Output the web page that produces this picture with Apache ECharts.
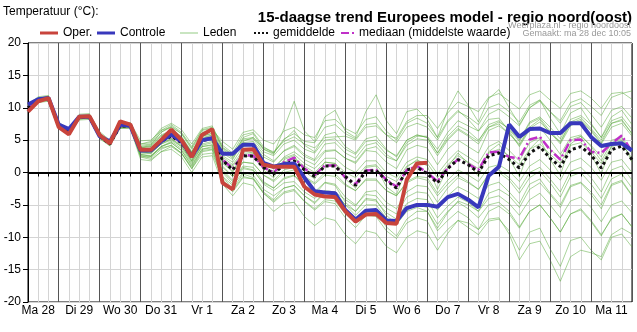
<!DOCTYPE html>
<html>
<head>
<meta charset="utf-8">
<script src="https://cdn.jsdelivr.net/npm/echarts@6/dist/echarts.min.js"></script>
<style>
html,body{margin:0;padding:0;background:#fff;}
#chart{width:637px;height:332px;}
</style>
</head>
<body>
<div id="chart"></div>
<script>
// Day tick labels (centred at 12:00 of each day)
const dayLabels = ['Ma 28','Di 29','Wo 30','Do 31','Vr 1','Za 2','Zo 3','Ma 4','Di 5','Wo 6','Do 7','Vr 8','Za 9','Zo 10','Ma 11','Di 12'];
const hoursOfDay = ['00','06','12','18'];

// 6-hourly values, Ma 28 06h .. Di 12 00h (60 points)
const oper = [9.4,11.0,11.5,7.0,5.9,8.6,8.7,5.8,4.5,7.9,7.4,3.5,3.5,5.0,6.6,5.0,2.4,5.8,6.7,-1.6,-2.6,3.5,3.6,1.2,0.9,0.9,0.9,-2.2,-3.4,-3.7,-3.8,-6.0,-7.6,-6.5,-6.4,-7.8,-7.9,-1.1,1.4,1.5];
const controle = [10.5,11.3,11.5,7.4,6.7,8.6,8.6,5.6,4.8,7.4,7.2,3.4,3.4,4.8,5.9,4.8,2.5,5.0,5.3,2.9,2.9,4.3,4.3,1.5,0.9,1.3,1.4,-0.8,-2.9,-3.1,-3.2,-5.8,-7.3,-5.9,-5.8,-7.4,-7.5,-5.5,-5.0,-5.0,-5.3,-3.8,-3.3,-4.2,-5.4,-0.5,0.9,7.4,5.5,6.7,6.8,6.1,6.1,7.6,7.6,5.5,4.1,4.4,4.5,3.4];
const gemiddelde = [10.0,11.2,11.4,7.2,6.3,8.5,8.6,5.6,4.4,7.2,7.2,3.4,3.4,4.8,5.6,4.6,2.4,4.9,5.3,1.9,0.4,2.6,2.5,0.8,-0.2,1.2,1.8,0.4,-0.6,1.0,1.0,-0.6,-2.0,0.2,0.3,-1.2,-2.4,0.4,0.8,-0.2,-1.6,0.6,2.0,1.2,0.0,2.6,3.0,2.0,0.7,3.0,4.0,2.2,0.9,3.5,4.0,2.7,0.7,3.5,4.1,2.0];
const mediaan = [10.0,11.2,11.4,7.2,6.3,8.5,8.6,5.6,4.4,7.2,7.2,3.4,3.4,4.8,5.7,4.6,2.4,5.0,5.4,2.0,0.6,2.7,2.6,0.8,0.0,1.6,2.3,0.6,-0.4,1.1,1.1,-0.8,-1.8,0.3,0.4,-1.1,-2.2,0.4,1.0,0.0,-1.4,0.7,2.0,1.3,0.4,3.1,3.2,2.4,2.2,5.1,5.5,3.5,2.0,5.0,5.1,3.2,3.0,4.5,5.7,3.2];

const lid01 = [10.5,11.7,11.9,7.7,6.8,9.0,9.1,6.3,5.0,7.7,7.7,4.9,5.0,6.5,7.0,6.0,3.8,6.5,6.8,3.9,2.8,5.2,5.4,3.8,3.2,4.8,5.5,4.4,3.8,5.4,5.5,5.6,5.0,7.0,7.2,5.8,5.3,7.9,8.8,8.8,6.8,9.2,10.9,10.2,9.4,11.6,12.2,11.0,9.8,12.0,12.6,11.2,9.9,12.2,12.6,11.5,9.9,12.2,12.4,11.3];
const lid02 = [9.6,10.8,11.0,6.8,5.9,8.1,8.2,5.2,4.1,6.8,6.8,2.0,1.8,3.2,4.0,2.9,0.6,3.2,3.5,-1.2,-3.0,-0.8,-1.0,-3.2,-4.6,-3.2,-2.8,-4.5,-5.8,-4.5,-4.8,-7.0,-8.5,-6.6,-6.8,-9.0,-10.2,-7.8,-7.0,-7.5,-10.5,-8.8,-7.4,-8.5,-9.6,-7.5,-7.2,-9.0,-12.0,-9.2,-8.6,-11.8,-14.5,-10.5,-10.0,-12.0,-13.5,-10.0,-9.5,-11.5];
const lid03 = [10.2,11.5,11.7,7.3,6.5,8.8,8.9,5.9,4.7,7.5,7.4,4.0,4.3,5.8,6.5,5.3,3.2,5.6,6.1,3.4,2.2,4.6,4.8,2.8,1.8,3.3,4.0,2.5,1.8,3.4,3.5,2.2,1.4,3.4,3.2,1.6,0.6,3.5,4.2,3.8,1.2,3.6,5.0,4.0,3.0,6.5,7.2,6.0,4.4,7.0,8.2,6.0,4.8,7.8,8.5,6.8,5.0,7.6,8.0,6.0];
const lid04 = [9.8,11.0,11.2,7.0,6.1,8.3,8.4,5.4,4.3,7.0,7.0,2.8,2.5,4.0,4.8,3.7,1.4,4.0,4.3,0.0,-1.8,0.6,0.3,-1.6,-2.4,-1.0,-0.5,-2.0,-3.0,-1.5,-1.8,-3.8,-5.0,-3.4,-3.6,-5.5,-6.4,-3.8,-3.0,-3.2,-5.8,-3.6,-2.2,-3.0,-4.0,-2.0,-1.5,-3.0,-4.8,-1.8,-1.0,-3.2,-5.0,-2.0,-1.5,-3.0,-5.0,-1.8,-1.2,-3.5];
const lid05 = [10.1,11.3,11.5,7.1,6.2,8.6,8.7,5.6,4.4,7.3,7.1,3.2,3.0,5.0,6.0,4.6,2.0,5.2,5.8,1.8,0.0,3.4,3.0,0.4,-0.8,2.0,2.6,0.2,-1.0,1.6,1.4,-1.0,-2.4,0.8,1.0,-2.2,-3.4,0.8,2.0,1.0,-2.6,0.8,3.0,1.4,-0.6,3.2,4.4,2.2,-0.6,3.6,5.2,2.0,-0.4,4.4,5.6,2.8,-0.2,4.2,5.0,1.6];
const lid06 = [10.3,11.4,11.8,7.5,6.6,8.7,8.8,6.1,4.8,7.6,7.6,4.4,4.6,6.5,7.4,6.2,4.0,6.6,7.0,4.2,3.0,5.8,6.2,4.0,3.0,5.0,6.5,4.2,3.2,5.8,6.2,4.0,3.0,5.2,5.6,3.6,2.4,5.0,5.8,5.4,3.0,5.6,7.2,6.4,5.0,7.0,7.5,6.0,4.2,6.8,7.8,6.2,4.4,7.2,8.0,6.4,4.4,7.0,7.6,5.6];
const lid07 = [9.9,11.1,11.3,6.9,6.0,8.2,8.5,5.5,4.2,6.9,7.1,2.6,2.2,3.6,4.2,3.0,0.8,3.4,3.6,-0.6,-2.0,0.0,-0.4,-2.6,-3.6,-2.4,-2.0,-3.6,-4.6,-3.0,-3.2,-5.0,-6.0,-4.2,-4.4,-6.2,-7.2,-4.8,-4.0,-4.2,-7.0,-5.2,-3.8,-4.6,-6.0,-4.0,-3.6,-4.8,-6.6,-4.2,-3.2,-5.0,-7.0,-4.4,-3.8,-5.4,-7.6,-5.0,-4.4,-6.2];
const lid08 = [10.2,11.2,11.6,7.4,6.5,8.7,8.6,6.0,4.6,7.4,7.3,3.8,4.0,5.6,6.6,5.6,3.2,5.8,6.4,3.0,2.0,4.8,5.4,3.6,3.0,5.2,6.0,4.8,4.6,7.0,7.4,6.0,5.2,7.4,7.6,5.8,4.6,7.0,7.6,7.0,5.0,7.8,9.4,8.6,7.4,10.0,10.6,9.4,7.8,10.4,11.2,9.4,7.6,10.2,10.8,9.0,7.0,9.6,10.2,8.4];
const lid09 = [9.7,10.9,11.1,7.0,6.1,8.3,8.3,5.3,4.2,6.9,6.9,2.4,2.4,4.0,4.6,3.4,1.0,3.6,4.0,0.4,-1.2,1.0,0.8,-1.4,-2.4,-0.8,-0.4,-2.2,-3.4,-1.6,-2.0,-4.6,-6.0,-4.0,-4.2,-6.6,-8.0,-6.0,-5.4,-6.0,-9.0,-7.4,-6.0,-7.0,-8.8,-7.2,-7.0,-9.5,-13.5,-11.0,-10.6,-13.5,-16.8,-13.0,-12.0,-12.4,-13.0,-9.6,-8.6,-9.5];
const lid10 = [10.0,11.2,11.3,7.2,6.4,8.5,8.6,5.7,4.5,7.2,7.3,3.6,3.8,5.2,6.0,5.0,2.8,5.4,5.8,2.4,1.2,3.4,3.6,1.6,0.8,2.2,2.8,1.4,0.6,2.2,2.2,0.8,0.0,1.8,1.8,0.0,-0.8,1.6,2.4,2.0,-0.2,1.8,3.4,2.4,1.4,4.0,4.8,3.4,1.8,4.6,5.4,3.6,2.2,5.0,5.6,4.2,2.4,5.0,5.4,3.4];
const lid11 = [10.0,11.1,11.4,7.1,6.3,8.4,8.6,5.5,4.4,7.1,7.2,3.0,2.9,4.4,5.2,4.2,1.8,4.4,4.8,0.8,-0.6,1.6,1.4,-0.4,-1.4,0.0,0.4,-0.8,-1.8,-0.4,-0.6,-2.0,-2.8,-1.2,-1.2,-2.8,-3.6,-1.4,-0.6,-0.8,-3.2,-1.2,0.4,-0.4,-1.4,0.8,1.2,0.2,-1.4,1.0,2.0,0.4,-1.2,1.6,2.2,0.8,-1.2,1.6,2.0,0.0];
const lid12 = [10.1,11.4,11.6,7.4,6.5,8.6,8.7,5.9,4.6,7.4,7.5,4.2,4.4,6.2,7.2,6.0,3.6,6.2,6.6,4.8,3.6,6.2,6.6,5.0,4.4,6.4,7.0,5.8,5.4,8.0,8.2,6.8,6.0,8.2,8.6,6.4,5.0,7.6,8.4,7.6,5.4,8.0,9.6,8.2,6.4,8.2,8.4,6.4,4.0,6.6,7.0,5.0,2.8,5.4,5.8,4.0,1.8,4.6,5.2,3.0];
const lid13 = [9.9,11.0,11.2,7.0,6.2,8.4,8.5,5.4,4.3,7.0,7.1,2.6,2.5,3.8,4.2,3.0,0.6,2.8,3.0,-1.0,-2.8,-0.6,-1.0,-3.2,-4.4,-3.0,-2.6,-4.4,-5.6,-4.2,-4.4,-6.4,-7.8,-6.0,-6.2,-8.4,-9.8,-7.2,-6.0,-6.0,-8.6,-6.2,-4.4,-5.0,-6.0,-3.2,-2.6,-3.6,-5.4,-2.6,-1.6,-3.4,-5.4,-2.2,-1.6,-3.4,-5.6,-2.0,-1.4,-3.6];
const lid14 = [10.0,11.2,11.5,7.3,6.3,8.5,8.5,5.6,4.5,7.2,7.2,3.4,3.4,4.8,5.6,4.6,2.4,4.9,5.3,1.4,0.2,2.4,2.6,0.8,0.2,1.6,2.2,1.0,0.0,1.6,1.4,0.0,-0.8,1.0,1.2,-0.6,-1.4,1.0,1.8,1.4,-0.8,1.2,2.6,1.6,0.6,3.0,3.6,2.6,1.2,3.6,4.4,2.8,1.4,4.2,4.6,3.2,1.4,4.0,4.4,2.2];
const lid15 = [9.8,11.0,11.3,7.1,6.2,8.4,8.4,5.4,4.4,7.1,7.0,2.4,2.0,3.2,3.6,2.4,0.0,2.4,2.6,-1.8,-3.6,-1.6,-2.0,-4.4,-6.0,-4.8,-4.6,-6.8,-8.2,-7.0,-7.4,-9.6,-11.0,-9.0,-9.4,-11.4,-12.4,-10.0,-9.0,-9.4,-12.0,-9.4,-7.4,-7.8,-8.8,-6.0,-5.2,-6.4,-8.6,-6.0,-5.0,-7.0,-9.2,-6.4,-5.8,-7.6,-9.8,-7.0,-6.4,-8.4];
const lid16 = [10.2,11.3,11.5,7.3,6.4,8.6,8.7,5.8,4.6,7.3,7.2,3.6,3.6,5.0,5.8,4.8,2.6,5.0,5.4,2.0,1.0,3.0,3.0,1.2,0.6,2.4,3.2,2.0,1.2,3.2,3.4,2.2,1.6,3.6,4.0,2.4,1.8,4.6,5.6,5.6,3.6,6.2,8.0,7.2,6.4,9.0,9.8,8.6,7.2,10.0,11.0,9.4,8.0,10.8,11.4,10.2,8.8,11.6,12.2,12.6];
const lid17 = [10.0,11.2,11.4,7.2,6.3,8.5,8.6,5.5,4.5,7.2,7.1,3.2,3.2,4.6,5.2,4.0,1.6,4.0,4.2,-0.6,-2.6,-0.2,-0.8,-3.0,-4.2,-2.4,-2.0,-3.6,-4.8,-3.2,-3.0,-4.2,-5.2,-3.0,-2.8,-4.6,-5.6,-3.0,-2.0,-2.2,-4.6,-2.4,-0.8,-1.6,-2.6,-0.2,0.4,-0.8,-2.6,0.0,0.8,-1.0,-3.0,0.2,0.8,-0.8,-3.0,0.4,1.0,-1.2];
const lid18 = [10.1,11.3,11.6,7.2,6.4,8.6,8.8,5.8,4.6,7.4,7.4,3.8,4.2,6.2,7.0,5.4,3.0,5.8,6.6,3.6,2.4,5.4,6.0,3.6,2.8,6.8,11.0,6.4,4.8,8.6,9.6,6.4,5.4,9.4,12.0,8.0,6.0,9.4,9.8,8.2,5.4,9.6,12.6,10.4,7.8,11.4,12.8,10.0,7.4,10.0,11.2,8.4,6.0,9.2,10.0,7.6,5.4,8.6,9.6,7.4];
const lid19 = [9.9,11.1,11.3,7.1,6.2,8.4,8.5,5.6,4.4,7.1,7.2,3.2,3.0,4.4,5.0,4.0,1.8,4.2,4.6,1.0,-0.6,1.6,1.4,-0.4,-1.2,0.4,0.8,-0.6,-1.6,0.0,-0.2,-1.8,-2.8,-1.0,-1.0,-2.8,-3.6,-1.6,-0.8,-1.2,-3.6,-1.8,-0.4,-1.4,-2.6,-0.4,0.0,-1.2,-3.2,-0.8,0.2,-1.6,-3.8,-0.6,0.0,-1.8,-4.0,-1.0,-0.2,-2.4];
const lid20 = [10.2,11.4,11.6,7.3,6.4,8.7,8.8,5.9,4.7,7.5,7.4,3.9,4.0,5.6,6.4,5.4,3.0,5.6,6.0,2.6,1.6,4.0,4.4,2.4,1.6,3.4,4.2,2.8,2.0,4.4,4.6,3.0,2.2,4.2,4.6,2.8,1.8,4.2,5.2,5.0,2.6,5.0,6.6,5.6,4.4,7.0,7.8,6.8,5.0,7.8,8.6,7.0,5.2,8.2,8.8,7.4,5.4,8.0,8.6,6.6];
const lid21 = [9.9,11.1,11.3,7.0,6.1,8.3,8.4,5.5,4.3,7.0,7.0,2.8,2.6,4.0,4.6,3.4,1.2,3.6,3.8,0.2,-1.4,0.8,0.4,-1.8,-2.8,-1.6,-1.4,-3.0,-4.0,-2.8,-3.0,-5.0,-6.6,-5.0,-5.0,-7.0,-8.0,-5.8,-5.0,-5.4,-8.0,-6.0,-4.6,-5.6,-7.0,-5.0,-4.6,-6.0,-8.4,-6.0,-5.0,-7.0,-9.2,-6.4,-5.6,-7.4,-9.6,-7.2,-6.4,-8.4];
const lid22 = [10.3,11.5,11.7,7.4,6.6,8.8,8.9,6.0,4.8,7.5,7.6,4.4,4.8,6.8,7.6,6.6,4.4,6.8,7.2,3.8,2.6,5.0,5.2,3.2,2.6,4.4,5.0,3.6,3.0,5.0,5.2,3.6,2.8,4.8,5.0,3.4,2.6,5.0,5.8,5.4,3.0,5.2,6.8,5.8,4.8,7.4,8.0,6.6,4.8,7.6,8.4,6.4,4.6,7.6,8.2,6.6,4.6,7.6,8.2,6.0];
const leden = [lid01,lid02,lid03,lid04,lid05,lid06,lid07,lid08,lid09,lid10,lid11,lid12,lid13,lid14,lid15,lid16,lid17,lid18,lid19,lid20,lid21,lid22];

// categories: 6-hourly time steps
const times = [];
for (let d = 0; d < 15; d++) {
  for (const h of hoursOfDay) times.push(dayLabels[d] + ' ' + h);
}
times.push(dayLabels[15] + ' 00');
times.shift(); // start at Ma 28 06h
const dayLines = times.filter(t => t.endsWith(' 00')).map(t => ({xAxis: t}));

const FONT = '"Liberation Sans", Arial, sans-serif';
const chart = echarts.init(document.getElementById('chart'), null, {renderer: 'canvas'});

const series = [];
series.push({
  name: '_days', type: 'line', data: [], silent: true, z: 1,
  markLine: {
    silent: true, symbol: 'none', label: {show: false},
    lineStyle: {color: '#555', width: 1, type: 'solid'},
    emphasis: {disabled: true},
    data: dayLines
  }
});
leden.forEach(arr => series.push({
  name: 'Leden', type: 'line', data: arr, symbol: 'none', silent: true, z: 2,
  lineStyle: {color: 'rgba(85,170,55,0.5)', width: 1},
  itemStyle: {color: 'rgba(120,190,100,0.8)'}
}));
series.push({
  name: '_zero', type: 'line', data: [], silent: true, z: 3,
  markLine: {
    silent: true, symbol: 'none', label: {show: false},
    lineStyle: {color: '#000', width: 2, type: 'solid'},
    data: [{yAxis: 0}]
  }
});
series.push({
  name: 'mediaan (middelste waarde)', type: 'line', data: mediaan, symbol: 'none', z: 4,
  lineStyle: {color: '#c030c8', width: 2.5, type: [9, 3, 2, 3]},
  itemStyle: {color: '#c030c8'}
});
series.push({
  name: 'gemiddelde', type: 'line', data: gemiddelde, symbol: 'none', z: 5,
  lineStyle: {color: '#111', width: 3, type: [3, 3]},
  itemStyle: {color: '#111'}
});
series.push({
  name: 'Controle', type: 'line', data: controle, symbol: 'none', z: 6,
  lineStyle: {color: '#3838bc', width: 4},
  itemStyle: {color: '#3838bc'}
});
series.push({
  name: 'Oper.', type: 'line', data: oper, symbol: 'none', z: 7,
  lineStyle: {color: '#c8443c', width: 4},
  itemStyle: {color: '#c8443c'}
});

function leg(name, left, w, h, icon) {
  return {
    data: [{name: name, icon: icon}], left: left, top: 27, itemWidth: w, itemHeight: h,
    selectedMode: false, padding: 0,
    textStyle: {fontSize: 12, color: '#000', fontFamily: FONT}
  };
}

chart.setOption({
  animation: false,
  backgroundColor: '#fff',
  textStyle: {fontFamily: FONT},
  title: [
    {text: '15-daagse trend Europees model - regio noord(oost)', right: 5, top: 10, padding: 0,
     textStyle: {fontSize: 15, fontWeight: 'bold', color: '#000', fontFamily: FONT, lineHeight: 15}},
    {text: 'Temperatuur (°C):', left: 3, top: 6, padding: 0,
     textStyle: {fontSize: 12, fontWeight: 'normal', color: '#000', fontFamily: FONT, lineHeight: 12}},
    {text: 'Weerplaza.nl - regio noordoost', right: 6, top: 21, padding: 0,
     textStyle: {fontSize: 9, fontWeight: 'normal', color: '#999', fontFamily: FONT, lineHeight: 9}},
    {text: 'Gemaakt: ma 28 dec 10:05', right: 6, top: 29, padding: 0,
     textStyle: {fontSize: 9, fontWeight: 'normal', color: '#999', fontFamily: FONT, lineHeight: 9}}
  ],
  legend: [
    leg('Oper.', 40, 18, 3, 'rect'),
    leg('Controle', 97, 18, 3, 'rect'),
    leg('Leden', 180, 18, 1, 'rect'),
    leg('gemiddelde', 254, 14, 3, 'path://M0,0h2v2h-2zM4,0h2v2h-2zM8,0h2v2h-2zM12,0h2v2h-2z'),
    leg('mediaan (middelste waarde)', 341, 13, 3, 'path://M0,0h8v2h-8zM11,0h2v2h-2z')
  ],
  grid: {left: 28, right: 5, top: 43, bottom: 30, show: true, borderColor: '#000', borderWidth: 1, backgroundColor: 'transparent'},
  xAxis: {
    type: 'category', data: times, boundaryGap: false,
    axisLine: {show: true, lineStyle: {color: '#000', width: 1}},
    axisTick: {show: true, interval: 0, length: 4, lineStyle: {color: '#000'}},
    axisLabel: {
      interval: 0, margin: 3, fontSize: 12, color: '#000', fontFamily: FONT,
      formatter: (v) => v.endsWith(' 12') ? v.slice(0, -3) : ''
    },
    splitLine: {show: true, interval: 0, lineStyle: {color: '#d4d4d4', width: 1}}
  },
  yAxis: {
    type: 'value', min: -20, max: 20, interval: 5,
    axisLine: {show: true, lineStyle: {color: '#000', width: 1}},
    axisTick: {show: true, length: 5, lineStyle: {color: '#000'}},
    axisLabel: {margin: 7, fontSize: 12, color: '#000', fontFamily: FONT},
    splitLine: {show: true, lineStyle: {color: '#d4d4d4', width: 1}}
  },
  series: series
});
</script>
</body>
</html>
